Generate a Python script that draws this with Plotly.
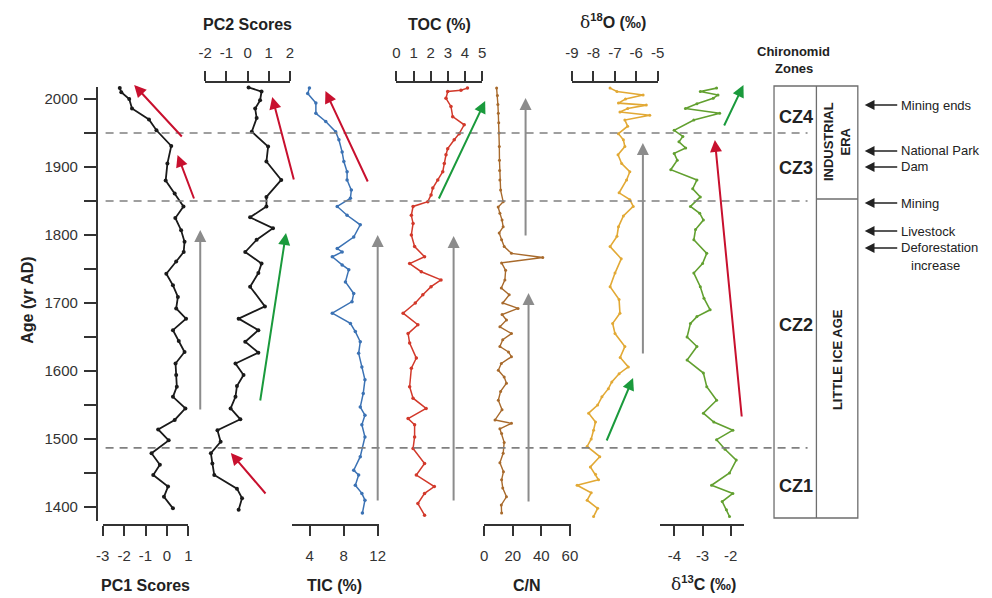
import plotly.graph_objects as go

W, H = 992, 598
FONT = "Arial, Liberation Sans, sans-serif"

# ---------------- data (age in yr AD, value) ----------------
pc1_age = [2016, 2010, 2000, 1986, 1970, 1954, 1931, 1905, 1880, 1861, 1842, 1825, 1807, 1790, 1775,
           1761, 1743, 1726, 1709, 1692, 1677, 1660, 1644, 1628, 1611, 1594, 1577, 1562, 1545, 1528,
           1514, 1498, 1479, 1462, 1447, 1430, 1415, 1398]
pc1_val = [-2.2, -2.13, -1.76, -1.63, -0.84, -0.49, 0.2, 0.02, -0.06, 0.36, 0.77, 0.39, 0.66, 0.82, 0.78,
           0.43, -0.03, 0.28, 0.51, 0.43, 0.89, 0.28, 0.55, 0.82, 0.4, 0.43, 0.46, 0.28, 0.86, 0.36,
           -0.41, 0.08, -0.72, -0.33, -0.64, 0.05, -0.14, 0.28]

pc2_age = [2017, 2011, 1998, 1986, 1972, 1952, 1930, 1908, 1881, 1856, 1842, 1826, 1810, 1793, 1775,
           1758, 1744, 1724, 1695, 1677, 1660, 1643, 1627, 1611, 1594, 1578, 1562, 1545, 1529, 1513,
           1496, 1479, 1464, 1447, 1427, 1413, 1396]
pc2_val = [0.05, 0.66, 0.59, 0.36, 0.43, 0.2, 0.97, 0.89, 1.59, 0.89, 0.89, 0.12, 1.2, 0.43, -0.11,
           0.66, 0.51, 0.12, 0.82, -0.42, 0.51, -0.11, 0.51, -0.57, -0.19, -0.5, -0.57, -0.8, -0.34, -1.42,
           -1.27, -1.73, -1.66, -1.57, -0.5, -0.26, -0.42]

tic_age = [2016, 2008, 1994, 1979, 1967, 1952, 1940, 1922, 1908, 1893, 1881, 1866, 1854, 1842, 1829,
           1815, 1797, 1780, 1775, 1768, 1756, 1749, 1731, 1714, 1702, 1685, 1670, 1658, 1643, 1626,
           1606, 1587, 1567, 1547, 1535, 1521, 1503, 1474, 1454, 1447, 1432, 1420, 1410, 1391]
tic_val = [3.97, 3.77, 4.73, 4.73, 5.89, 7.05, 7.44, 7.82, 8.02, 8.4, 8.4, 8.9, 8.79, 7.24, 8.4,
           9.95, 9.18, 7.24, 7.82, 6.66, 7.82, 8.6, 8.21, 9.18, 8.98, 6.66, 8.79, 9.37, 9.95, 9.76,
           10.14, 10.5, 10.3, 9.95, 10.5, 10.14, 10.5, 9.95, 9.18, 9.76, 9.37, 10.14, 10.5, 10.2]

toc_age = [2016, 2013, 2011, 2001, 1989, 1974, 1962, 1949, 1940, 1927, 1918, 1905, 1893, 1881, 1869,
           1859, 1849, 1842, 1829, 1817, 1800, 1783, 1768, 1758, 1746, 1734, 1724, 1712, 1700, 1685,
           1668, 1655, 1641, 1619, 1604, 1577, 1560, 1545, 1530, 1521, 1503, 1486, 1464, 1447, 1430,
           1420, 1405, 1388]
toc_val = [4.14, 3.76, 2.99, 2.89, 3.18, 3.28, 3.95, 3.66, 3.37, 2.99, 2.89, 2.79, 2.7, 2.41, 2.12,
           2.02, 1.83, 0.97, 0.87, 0.97, 0.87, 1.06, 1.64, 0.77, 1.45, 2.6, 2.02, 1.54, 1.1, 0.39,
           1.25, 0.68, 0.77, 1.16, 0.87, 0.77, 0.97, 1.73, 0.68, 1.06, 1.06, 0.97, 1.64, 1.16, 2.21,
           1.64, 1.25, 1.64]

cn_age = [2016, 2005, 1992, 1979, 1965, 1950, 1930, 1910, 1895, 1881, 1866, 1849, 1841, 1832, 1822,
          1812, 1803, 1793, 1783, 1773, 1767, 1759, 1748, 1734, 1722, 1712, 1700, 1692, 1683, 1675,
          1665, 1655, 1646, 1636, 1628, 1621, 1611, 1601, 1591, 1582, 1570, 1557, 1543, 1528, 1523,
          1515, 1508, 1495, 1479, 1465, 1452, 1440, 1428, 1415, 1403, 1391]
cn_val = [8.7, 9.3, 9.6, 9.9, 10.2, 10.4, 10.6, 10.7, 10.8, 11.0, 11.5, 13.3, 9.8, 11.0, 12.5,
          13.3, 10.5, 12.2, 14.0, 19.1, 41.0, 12.2, 15.0, 14.5, 12.0, 17.5, 13.0, 23.7, 12.5, 15.6,
          11.0, 19.1, 13.0, 11.0, 17.0, 19.1, 12.0, 9.9, 14.0, 15.6, 11.5, 9.9, 12.5, 7.6, 19.1,
          11.0, 12.2, 14.0, 13.3, 11.0, 13.5, 12.2, 13.0, 15.6, 12.0, 12.2]

o18_age = [2016, 2011, 2006, 2000, 1994, 1991, 1986, 1981, 1976, 1969, 1960, 1949, 1940, 1930, 1918,
           1905, 1893, 1881, 1862, 1852, 1842, 1828, 1812, 1798, 1783, 1765, 1744, 1724, 1705, 1685,
           1670, 1655, 1636, 1620, 1606, 1596, 1584, 1574, 1562, 1550, 1538, 1525, 1513, 1500, 1489,
           1474, 1459, 1448, 1440, 1432, 1421, 1410, 1398, 1386]
o18_val = [-7.22, -6.9, -5.68, -6.5, -6.83, -5.53, -6.4, -6.76, -5.37, -6.53, -6.4, -6.83, -6.6, -6.53, -6.85,
           -6.68, -6.3, -6.45, -6.8, -6.3, -6.14, -6.6, -6.83, -6.9, -7.22, -6.7, -6.99, -7.22, -6.8, -6.76,
           -7.1, -6.99, -6.53, -6.75, -6.37, -6.8, -7.14, -7.3, -7.6, -7.8, -8.22, -7.9, -7.99, -8.1, -8.29,
           -7.7, -8.14, -7.9, -7.76, -8.76, -8.1, -8.29, -7.8, -7.99]

c13_age = [2016, 2011, 2006, 2001, 1993, 1986, 1979, 1969, 1954, 1945, 1937, 1928, 1920, 1910, 1896,
           1881, 1868, 1856, 1842, 1832, 1822, 1808, 1793, 1773, 1758, 1744, 1724, 1707, 1690, 1680,
           1670, 1650, 1636, 1616, 1597, 1577, 1557, 1538, 1525, 1513, 1499, 1485, 1469, 1450, 1432,
           1420, 1408, 1396, 1386]
c13_val = [-2.5, -3.08, -2.45, -2.62, -3.2, -3.61, -2.39, -3.31, -4.01, -3.7, -3.84, -3.6, -4.01, -3.9, -4.13,
           -3.2, -3.35, -3.08, -3.43, -3.1, -2.97, -3.25, -3.31, -2.85, -3.0, -3.31, -3.08, -2.95, -2.73, -3.2,
           -3.43, -3.55, -3.2, -3.55, -2.97, -2.85, -2.5, -2.97, -2.6, -1.92, -2.5, -2.2, -1.8, -2.04, -2.68,
           -1.92, -2.3, -2.15, -2.04]

# ---------------- helpers (pixel -> paper) ----------------
def PX(x):
    return x / W

def PY(y):
    return 1 - y / H

Y_TOP, Y_BOT = 87, 521           # y-axis extent in pixels
AGE_TOP = 1400 + (507 - Y_TOP) / 0.68
AGE_BOT = 1400 + (507 - Y_BOT) / 0.68

fig = go.Figure()

panels = [
    ("PC1", pc1_age, pc1_val, "#1a1a1a", "x", 1.8, 4),
    ("PC2", pc2_age, pc2_val, "#1a1a1a", "x2", 1.8, 4),
    ("TIC", tic_age, tic_val, "#3b72b4", "x3", 1.5, 3.5),
    ("TOC", toc_age, toc_val, "#d2392b", "x4", 1.5, 3.5),
    ("C/N", cn_age, cn_val, "#a86a2c", "x5", 1.4, 3),
    ("d18O", o18_age, o18_val, "#e2a935", "x6", 1.6, 3),
    ("d13C", c13_age, c13_val, "#62a030", "x7", 1.6, 3),
]
for name, a, v, col, ax, lw, ms in panels:
    fig.add_trace(go.Scatter(x=v, y=a, xaxis=ax, yaxis="y", mode="lines+markers",
                             line=dict(color=col, width=lw), marker=dict(color=col, size=ms),
                             showlegend=False, cliponaxis=False, name=name))

tickfont = dict(family=FONT, size=15, color="#333333")

def xax(dom_px, rng, side, pos_py, tickvals):
    return dict(domain=[PX(dom_px[0]), PX(dom_px[1])], range=rng, side=side, anchor="free",
                position=PY(pos_py), showline=True, linecolor="#333333", linewidth=1.6,
                ticks="outside", ticklen=10, tickwidth=1.6, tickcolor="#333333",
                tickvals=tickvals, ticktext=[str(t) for t in tickvals],
                tickfont=tickfont, showgrid=False, zeroline=False, fixedrange=True,
                ticklabelstandoff=7)

layout = dict(
    width=W, height=H, margin=dict(l=0, r=0, t=0, b=0),
    paper_bgcolor="white", plot_bgcolor="rgba(0,0,0,0)",
    font=dict(family=FONT, color="#222222"),
    xaxis=xax((97, 184), [-3, 1], "bottom", 525, [-3, -2, -1, 0, 1]),
    xaxis2=xax((201, 287), [-2, 2], "top", 82, [-2, -1, 0, 1, 2]),
    xaxis3=xax((289, 377), [4 - 18 / 8.625, 12 + 1 / 8.625], "bottom", 525, [4, 8, 12]),
    xaxis4=xax((395, 482), [0, 5], "top", 82, [0, 1, 2, 3, 4, 5]),
    xaxis5=xax((484, 572), [0, 88 / 1.45], "bottom", 525, [0, 20, 40, 60]),
    xaxis6=xax((573, 660), [-9, -5], "top", 82, [-9, -8, -7, -6, -5]),
    xaxis7=xax((662, 748), [-4 - 15 / 28.5, -2 + 14 / 28.5], "bottom", 525, [-4, -3, -2]),
    yaxis=dict(domain=[PY(Y_BOT), PY(Y_TOP)], range=[AGE_BOT, AGE_TOP], anchor="free",
               position=PX(91), showline=True, linecolor="#333333", linewidth=1.6,
               ticks="outside", ticklen=12, tickwidth=1.6, tickcolor="#333333",
               tickvals=list(range(1400, 2001, 50)),
               ticktext=[str(t) if t % 100 == 0 else " " for t in range(1400, 2001, 50)],
               tickfont=tickfont, showgrid=False, zeroline=False, fixedrange=True,
               ticklabelstandoff=3),
)
fig.update_layout(**layout)

shapes = []
for age in [1950, 1850, 1487]:
    shapes.append(dict(type="line", xref="paper", yref="y", x0=PX(100), x1=PX(812), y0=age, y1=age,
                       line=dict(color="#808080", width=1.6, dash="8px,6px")))
box_col = "#6e6e6e"
shapes.append(dict(type="rect", xref="paper", yref="paper", x0=PX(778), x1=PX(863), y0=PY(518), y1=PY(86),
                   line=dict(color=box_col, width=1.3)))
shapes.append(dict(type="line", xref="paper", yref="paper", x0=PX(821), x1=PX(821), y0=PY(518), y1=PY(86),
                   line=dict(color=box_col, width=1.3)))
shapes.append(dict(type="line", xref="paper", yref="paper", x0=PX(821), x1=PX(863), y0=PY(199), y1=PY(199),
                   line=dict(color=box_col, width=1.3)))
fig.update_layout(shapes=shapes)

ann = []

def text(x, y, s, size=16, bold=True, angle=0, xanchor="center", color="#222222"):
    ann.append(dict(xref="paper", yref="paper", x=PX(x), y=PY(y), text=(f"<b>{s}</b>" if bold else s),
                    showarrow=False, font=dict(family=FONT, size=size, color=color), textangle=angle,
                    xanchor=xanchor, yanchor="middle"))

# axis titles
text(244, 25, "PC2 Scores")
text(439, 25, "TOC (%)")
ann.append(dict(xref="paper", yref="paper", x=PX(615), y=PY(22), showarrow=False,
                text="<span style='font-family:DejaVu Serif, serif;font-size:17px'>δ</span><b><sup>18</sup>O (‰)</b>",
                font=dict(family=FONT, size=16, color="#222222"), xanchor="center", yanchor="middle"))
text(140, 585, "PC1 Scores")
text(332, 585, "TIC (%)")
text(527, 585, "C/N")
ann.append(dict(xref="paper", yref="paper", x=PX(706), y=PY(583), showarrow=False,
                text="<span style='font-family:DejaVu Serif, serif;font-size:17px'>δ</span><b><sup>13</sup>C (‰)</b>",
                font=dict(family=FONT, size=16, color="#222222"), xanchor="center", yanchor="middle"))
text(20, 300, "Age (yr AD)", size=16, angle=-90)
text(798, 52, "Chironomid", size=13)
text(798, 68, "Zones", size=13)
# zone labels
text(800, 117, "CZ4", size=18)
text(800, 168, "CZ3", size=18)
text(800, 325, "CZ2", size=18)
text(800, 486, "CZ1", size=18)
ann.append(dict(xref="paper", yref="paper", x=PX(842), y=PY(142), showarrow=False,
                text="<b>INDUSTRIAL<br>ERA</b>", textangle=-90,
                font=dict(family=FONT, size=13, color="#222222"), xanchor="center", yanchor="middle"))
text(842, 360, "LITTLE ICE AGE", size=13, angle=-90)

# event markers on the right
events = [("Mining ends", 105), ("National Park", 151), ("Dam", 167), ("Mining", 203),
          ("Livestock", 231), ("Deforestation", 248)]
for label, yy in events:
    ann.append(dict(xref="paper", yref="paper", x=PX(870), y=PY(yy), ax=34, ay=0, axref="pixel", ayref="pixel",
                    showarrow=True, arrowhead=2, arrowsize=1.4, arrowwidth=1.4, arrowcolor="#222222", text=""))
    text(905, yy, label, size=13, bold=False, xanchor="left")
text(942, 265, "increase", size=13, bold=False)

# trend arrows (head px, head py, tail px, tail py, colour)
RED, GREEN, GREY = "#c8102e", "#1a9a3c", "#8c8c8c"
trend_arrows = [
    (129, 85, 178, 138, RED), (173, 155, 190, 200, RED), (196, 230, 196, 411, GREY),
    (269, 97, 291, 181, RED), (283, 233, 257, 402, GREEN), (227, 453, 263, 495, RED),
    (323, 91, 366, 183, RED), (376, 235, 376, 502, GREY),
    (485, 101, 438, 200, GREEN), (453, 236, 453, 502, GREY),
    (526, 98, 526, 237, GREY), (529, 293, 529, 503, GREY),
    (645, 143, 645, 355, GREY), (635, 378, 608, 442, GREEN),
    (747, 85, 727, 127, GREEN), (718, 140, 745, 418, RED),
]
for hx, hy, tx, ty, col in trend_arrows:
    ann.append(dict(xref="paper", yref="paper", x=PX(hx), y=PY(hy), ax=tx - hx, ay=ty - hy,
                    axref="pixel", ayref="pixel", showarrow=True, arrowhead=2, arrowsize=1.2,
                    arrowwidth=2, arrowcolor=col, text="", standoff=0))

fig.update_layout(annotations=ann)
fig.write_html("out.html")
